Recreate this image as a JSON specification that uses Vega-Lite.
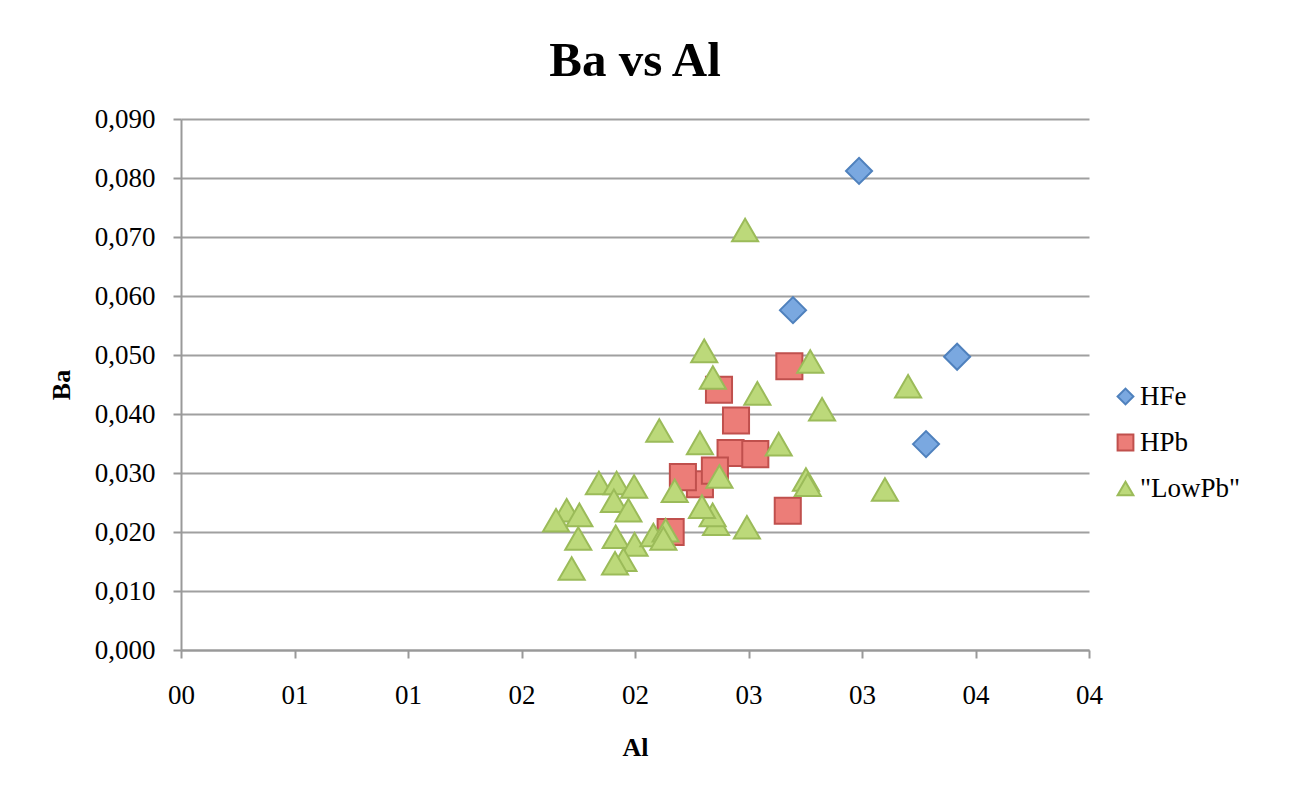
{
  "$schema": "https://vega.github.io/schema/vega-lite/v6.json",
  "autosize": "none",
  "width": 908,
  "height": 531,
  "padding": {"left": 181, "top": 119, "right": 204, "bottom": 137},
  "background": "white",
  "config": {
    "font": "Liberation Serif",
    "view": {"stroke": null}
  },
  "title": {
    "text": "Ba vs Al",
    "font": "Liberation Serif",
    "fontSize": 49,
    "fontWeight": "bold",
    "color": "black",
    "anchor": "middle",
    "offset": 19
  },
  "data": {
    "values": [
      {"series": "HFe", "Al": 2.987, "Ba": 0.0812},
      {"series": "HFe", "Al": 2.696, "Ba": 0.0576},
      {"series": "HFe", "Al": 3.419, "Ba": 0.0497},
      {"series": "HFe", "Al": 3.282, "Ba": 0.0349},
      {"series": "HPb", "Al": 2.680, "Ba": 0.0481},
      {"series": "HPb", "Al": 2.370, "Ba": 0.0441},
      {"series": "HPb", "Al": 2.445, "Ba": 0.0389},
      {"series": "HPb", "Al": 2.421, "Ba": 0.0334},
      {"series": "HPb", "Al": 2.530, "Ba": 0.0332},
      {"series": "HPb", "Al": 2.286, "Ba": 0.0281},
      {"series": "HPb", "Al": 2.352, "Ba": 0.0304},
      {"series": "HPb", "Al": 2.211, "Ba": 0.0293},
      {"series": "HPb", "Al": 2.673, "Ba": 0.0236},
      {"series": "HPb", "Al": 2.157, "Ba": 0.0200},
      {"series": "\"LowPb\"", "Al": 2.485, "Ba": 0.0712},
      {"series": "\"LowPb\"", "Al": 2.305, "Ba": 0.0507},
      {"series": "\"LowPb\"", "Al": 2.343, "Ba": 0.0462},
      {"series": "\"LowPb\"", "Al": 2.772, "Ba": 0.0489},
      {"series": "\"LowPb\"", "Al": 2.539, "Ba": 0.0435},
      {"series": "\"LowPb\"", "Al": 2.824, "Ba": 0.0408},
      {"series": "\"LowPb\"", "Al": 3.203, "Ba": 0.0447},
      {"series": "\"LowPb\"", "Al": 2.107, "Ba": 0.0372},
      {"series": "\"LowPb\"", "Al": 2.286, "Ba": 0.0351},
      {"series": "\"LowPb\"", "Al": 2.633, "Ba": 0.0349},
      {"series": "\"LowPb\"", "Al": 2.372, "Ba": 0.0294},
      {"series": "\"LowPb\"", "Al": 2.175, "Ba": 0.0270},
      {"series": "\"LowPb\"", "Al": 2.753, "Ba": 0.0289},
      {"series": "\"LowPb\"", "Al": 2.761, "Ba": 0.0280},
      {"series": "\"LowPb\"", "Al": 3.101, "Ba": 0.0272},
      {"series": "\"LowPb\"", "Al": 2.493, "Ba": 0.0208},
      {"series": "\"LowPb\"", "Al": 2.357, "Ba": 0.0214},
      {"series": "\"LowPb\"", "Al": 2.342, "Ba": 0.0229},
      {"series": "\"LowPb\"", "Al": 2.295, "Ba": 0.0243},
      {"series": "\"LowPb\"", "Al": 1.841, "Ba": 0.0283},
      {"series": "\"LowPb\"", "Al": 1.919, "Ba": 0.0283},
      {"series": "\"LowPb\"", "Al": 1.996, "Ba": 0.0277},
      {"series": "\"LowPb\"", "Al": 1.907, "Ba": 0.0253},
      {"series": "\"LowPb\"", "Al": 1.971, "Ba": 0.0237},
      {"series": "\"LowPb\"", "Al": 1.699, "Ba": 0.0237},
      {"series": "\"LowPb\"", "Al": 1.755, "Ba": 0.0229},
      {"series": "\"LowPb\"", "Al": 1.652, "Ba": 0.0220},
      {"series": "\"LowPb\"", "Al": 1.750, "Ba": 0.0189},
      {"series": "\"LowPb\"", "Al": 1.915, "Ba": 0.0192},
      {"series": "\"LowPb\"", "Al": 1.998, "Ba": 0.0179},
      {"series": "\"LowPb\"", "Al": 2.081, "Ba": 0.0195},
      {"series": "\"LowPb\"", "Al": 2.135, "Ba": 0.0203},
      {"series": "\"LowPb\"", "Al": 2.125, "Ba": 0.0189},
      {"series": "\"LowPb\"", "Al": 1.949, "Ba": 0.0153},
      {"series": "\"LowPb\"", "Al": 1.912, "Ba": 0.0147},
      {"series": "\"LowPb\"", "Al": 1.721, "Ba": 0.0138}
    ]
  },
  "mark": {"type": "point", "filled": true, "opacity": 1, "strokeWidth": 2, "size": 680},
  "encoding": {
    "x": {
      "field": "Al",
      "type": "quantitative",
      "scale": {"domain": [0, 4], "nice": false, "zero": false},
      "axis": {
        "title": "Al",
        "values": [0, 0.5, 1, 1.5, 2, 2.5, 3, 3.5, 4],
        "labelExpr": "'0' + round(datum.value)",
        "grid": false,
        "domainColor": "#999999",
        "domainWidth": 2,
        "tickColor": "#999999",
        "tickWidth": 2,
        "tickSize": 8,
        "labelFont": "Liberation Serif",
        "labelFontSize": 27,
        "labelColor": "black",
        "labelPadding": 24,
        "labelFlush": false,
        "titleFont": "Liberation Serif",
        "titleFontSize": 26,
        "titleFontWeight": "bold",
        "titleColor": "black",
        "titlePadding": 26
      }
    },
    "y": {
      "field": "Ba",
      "type": "quantitative",
      "scale": {"domain": [0, 0.09], "nice": false},
      "axis": {
        "title": "Ba",
        "values": [0, 0.01, 0.02, 0.03, 0.04, 0.05, 0.06, 0.07, 0.08, 0.09],
        "labelExpr": "replace(format(datum.value, '.3f'), '.', ',')",
        "grid": true,
        "gridColor": "#a0a0a0",
        "gridWidth": 2,
        "domainColor": "#999999",
        "domainWidth": 2,
        "tickColor": "#999999",
        "tickWidth": 2,
        "tickSize": 8,
        "labelFont": "Liberation Serif",
        "labelFontSize": 27,
        "labelColor": "black",
        "labelPadding": 18,
        "labelFlush": false,
        "titleFont": "Liberation Serif",
        "titleFontSize": 26,
        "titleFontWeight": "bold",
        "titleColor": "black",
        "titlePadding": 20
      }
    },
    "color": {
      "field": "series",
      "type": "nominal",
      "scale": {"domain": ["HFe", "HPb", "\"LowPb\""], "range": ["#7aa8e0", "#ec7d78", "#bcd97a"]},
      "legend": {
        "title": null,
        "orient": "none",
        "legendX": 931,
        "legendY": 264,
        "labelFont": "Liberation Serif",
        "labelFontSize": 27,
        "labelColor": "black",
        "symbolSize": 250,
        "symbolStrokeWidth": 2,
        "rowPadding": 18,
        "labelOffset": 1,
        "symbolOpacity": 1
      }
    },
    "stroke": {
      "field": "series",
      "type": "nominal",
      "scale": {"domain": ["HFe", "HPb", "\"LowPb\""], "range": ["#4f81bd", "#c0504d", "#9bbb59"]}
    },
    "shape": {
      "field": "series",
      "type": "nominal",
      "scale": {"domain": ["HFe", "HPb", "\"LowPb\""], "range": ["diamond", "square", "triangle-up"]}
    }
  }
}
